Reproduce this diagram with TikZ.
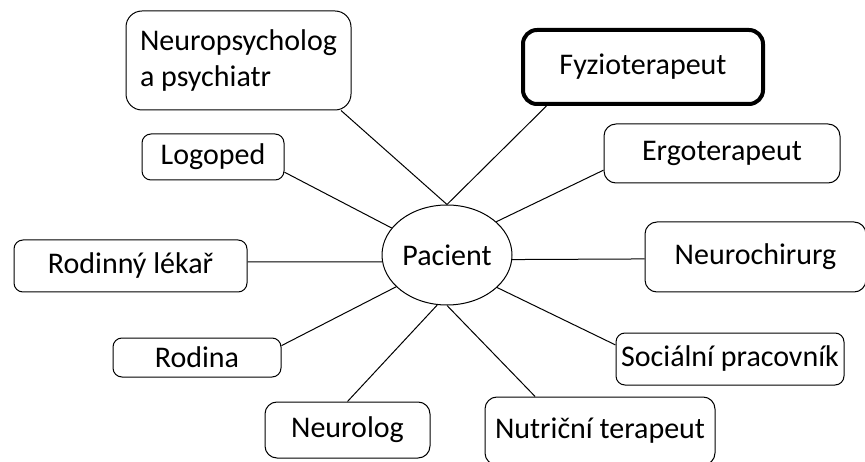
\documentclass[tikz,border=0pt]{standalone}
\usepackage{fontspec}
\setmainfont{Carlito}
\usetikzlibrary{shapes.geometric}
\tikzset{
    carecentre/.style={ellipse,draw,line width=1pt,minimum width=130pt,minimum height=100pt,inner sep=0pt,font=\fontsize{30pt}{36.6pt}\selectfont},
    careprof/.style={rectangle,draw,line width=1pt,rounded corners=12pt,align=center,inner sep=0pt,font=\fontsize{30pt}{36.6pt}\selectfont},
    caresmall/.style={careprof,rounded corners=9pt},
    carelead/.style={careprof,line width=4pt,rounded corners=14pt},
    careline/.style={line width=1pt}
}
\begin{document}
\begin{tikzpicture}[x=1pt,y=1pt]
    \useasboundingbox[fill=white] (0,0) rectangle (865,461);
    \node[carecentre] (pacient) at (447,206) {Pacient};
    \node[careprof,align=left,rounded corners=16pt,minimum width=225pt,minimum height=99pt] (neuropsych) at (238.5,400.5) {Neuropsycholog\\a psychiatr};
    \node[caresmall,minimum width=142pt,minimum height=46pt] (logoped) at (213,304) {Logoped};
    \node[carelead,minimum width=240pt,minimum height=74pt] (fyzio) at (643,394) {Fyzioterapeut};
    \node[careprof,minimum width=236pt,minimum height=59pt] (ergo) at (722,307.5) {Ergoterapeut};
    \node[careprof,minimum width=221pt,minimum height=70pt] (neurochir) at (755.5,204) {Neurochirurg};
    \node[caresmall,minimum width=233pt,minimum height=52pt] (rodinny) at (130.5,195) {Rodinný lékař};
    \node[caresmall,minimum width=168pt,minimum height=39pt] (rodina) at (197,103.5) {Rodina};
    \node[careprof,minimum width=165pt,minimum height=56pt] (neurolog) at (347.5,31) {Neurolog};
    \node[careprof,minimum width=230pt,minimum height=68pt] (nutricni) at (600,30) {Nutriční terapeut};
    \node[caresmall,minimum width=228pt,minimum height=52pt] (social) at (730,102) {Sociální pracovník};
    % spojnice k pacientovi
    \draw[careline] (neuropsych.-26) -- (pacient.north);
    \draw[careline] (fyzio.202) -- (pacient.north);
    \draw[careline] (logoped.-12) -- (pacient.154);
    \draw[careline] (ergo.188) -- (pacient.34);
    \draw[careline] (rodinny.2) -- (pacient.186);
    \draw[careline] (neurochir.181.5) -- (pacient.-4);
    \draw[careline] (rodina.8) -- (pacient.212);
    \draw[careline] (social.173) -- (pacient.-33);
    \draw[careline] (neurolog.north) -- (pacient.259);
    \draw[careline] (nutricni.152) -- (pacient.south);
\end{tikzpicture}
\end{document}
